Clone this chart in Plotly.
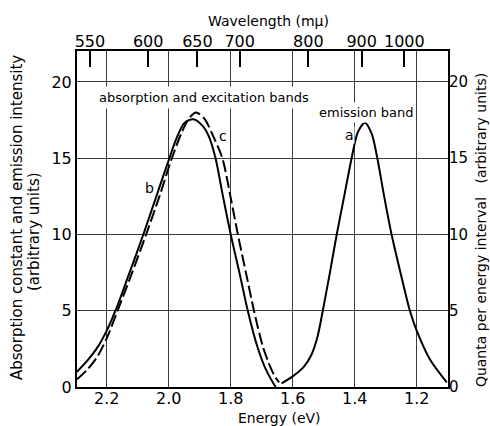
import plotly.graph_objects as go

# Absorption band (curve b), energy in eV and intensity in arbitrary units
abs_energy = [2.296, 2.26, 2.23, 2.2, 2.17, 2.13, 2.082, 2.04, 1.998, 1.975, 1.95,
              1.921, 1.89, 1.87, 1.849, 1.825, 1.80, 1.772, 1.745, 1.715, 1.69, 1.67, 1.655]
abs_value = [1.0, 1.8, 2.6, 3.7, 5.1, 7.3, 10.0, 12.5, 15.0, 16.3, 17.3,
             17.55, 17.1, 16.4, 15.0, 12.5, 10.0, 7.5, 5.0, 2.7, 1.3, 0.5, 0.0]

# Excitation band (curve c)
exc_energy = [2.296, 2.26, 2.23, 2.2, 2.165, 2.12, 2.073, 2.03, 1.99, 1.96, 1.935,
              1.912, 1.885, 1.86, 1.827, 1.80, 1.777, 1.75, 1.725, 1.697, 1.672, 1.655, 1.644]
exc_value = [0.5, 1.2, 2.0, 3.2, 5.0, 7.4, 10.0, 12.5, 15.0, 16.6, 17.6,
             18.0, 17.6, 16.6, 15.0, 12.4, 10.0, 7.4, 5.0, 2.7, 1.3, 0.6, 0.3]

# Emission band (curve a)
em_energy = [1.636, 1.6, 1.565, 1.54, 1.52, 1.503, 1.48, 1.458, 1.434, 1.41, 1.39,
             1.367, 1.345, 1.327, 1.305, 1.281, 1.25, 1.222, 1.2, 1.157, 1.103]
em_value = [0.24, 0.7, 1.3, 2.1, 3.3, 5.0, 7.5, 10.0, 12.5, 15.0, 16.7,
            17.33, 16.6, 15.0, 12.5, 10.0, 7.3, 5.0, 3.7, 1.8, 0.3]

# Axis ticks
energy_ticks = [2.2, 2.0, 1.8, 1.6, 1.4, 1.2]
energy_labels = ["2.2", "2.0", "1.8", "1.6", "1.4", "1.2"]
wavelengths = [550, 600, 650, 700, 800, 900, 1000]   # mμ
intensity_ticks = [0, 5, 10, 15, 20]

HC = 1239.8  # eV·nm, converts wavelength to photon energy
wavelength_energy = [HC / w for w in wavelengths]

X_RANGE = [2.296, 1.099]
Y_RANGE = [0, 22.03]

FONT = "DejaVu Sans"
GRID = "#3c3c3c"

fig = go.Figure()
line_style = dict(color="black", width=2, shape="spline", smoothing=0.8)
fig.add_trace(go.Scatter(x=abs_energy, y=abs_value, mode="lines",
                         line=line_style, hoverinfo="skip"))
fig.add_trace(go.Scatter(x=exc_energy, y=exc_value, mode="lines",
                         line=dict(line_style, dash="12px,4px"), hoverinfo="skip"))
fig.add_trace(go.Scatter(x=em_energy, y=em_value, mode="lines",
                         line=line_style, hoverinfo="skip"))
# invisible trace so that the wavelength and right-hand axes are drawn
fig.add_trace(go.Scatter(x=[X_RANGE[0]], y=[0], xaxis="x2", yaxis="y2",
                         mode="markers", marker=dict(opacity=0), hoverinfo="skip"))

fig.update_layout(
    width=490, height=426,
    margin=dict(l=77, r=42, t=51, b=39),
    paper_bgcolor="white", plot_bgcolor="white",
    showlegend=False,
    font=dict(family=FONT, color="black"),
    xaxis=dict(range=X_RANGE, tickvals=energy_ticks, ticktext=energy_labels,
               showgrid=True, gridcolor=GRID, gridwidth=1.3, zeroline=False,
               showline=True, linecolor="black", linewidth=2, mirror=True,
               ticks="", tickfont=dict(size=16), ticklabelstandoff=-4),
    xaxis2=dict(range=X_RANGE, overlaying="x", side="top", anchor="y",
                tickvals=wavelength_energy, ticktext=[str(w) for w in wavelengths],
                ticks="inside", ticklen=16, tickwidth=1.5, tickcolor="black",
                showgrid=False, zeroline=False, showline=False,
                tickfont=dict(size=16)),
    yaxis=dict(range=Y_RANGE, tickvals=intensity_ticks,
               showgrid=True, gridcolor=GRID, gridwidth=1.3, zeroline=False,
               showline=True, linecolor="black", linewidth=2, mirror=True,
               ticks="", tickfont=dict(size=16)),
    yaxis2=dict(range=Y_RANGE, overlaying="y", side="right", anchor="x",
                tickvals=intensity_ticks, showgrid=False, zeroline=False,
                showline=False, ticks="", tickfont=dict(size=15)),
)

annotations = [
    # axis titles
    dict(text="Wavelength (mμ)", xref="paper", yref="paper", x=0.5175, y=1.089,
         showarrow=False, font=dict(size=14), xanchor="center", yanchor="middle"),
    dict(text="Energy (eV)", xref="paper", yref="paper", x=0.547, y=-0.092,
         showarrow=False, font=dict(size=14), xanchor="center", yanchor="middle"),
    dict(text="Absorption constant and emission intensity", xref="paper", yref="paper",
         x=-0.1617, y=0.503, textangle=-90, showarrow=False, font=dict(size=15),
         xanchor="center", yanchor="middle"),
    dict(text="(arbitrary units)", xref="paper", yref="paper",
         x=-0.1159, y=0.461, textangle=-90, showarrow=False, font=dict(size=15),
         xanchor="center", yanchor="middle"),
    dict(text="Quanta per energy interval   (arbitrary units)", xref="paper", yref="paper",
         x=1.089, y=0.467, textangle=-90, showarrow=False, font=dict(size=14),
         xanchor="center", yanchor="middle"),
    # band labels
    dict(text="absorption and excitation bands", x=1.885, y=18.95, showarrow=False,
         font=dict(size=13), bgcolor="white", borderpad=3),
    dict(text="emission band", x=1.362, y=17.99, showarrow=False,
         font=dict(size=13), bgcolor="white", borderpad=2),
    dict(text="b", x=2.0605, y=13.03, showarrow=False, font=dict(size=14)),
    dict(text="c", x=1.824, y=16.45, showarrow=False, font=dict(size=14)),
    dict(text="a", x=1.418, y=16.5, showarrow=False, font=dict(size=14),
         bgcolor="white", borderpad=0),
]
fig.update_layout(annotations=annotations)

fig.write_html("out.html")
